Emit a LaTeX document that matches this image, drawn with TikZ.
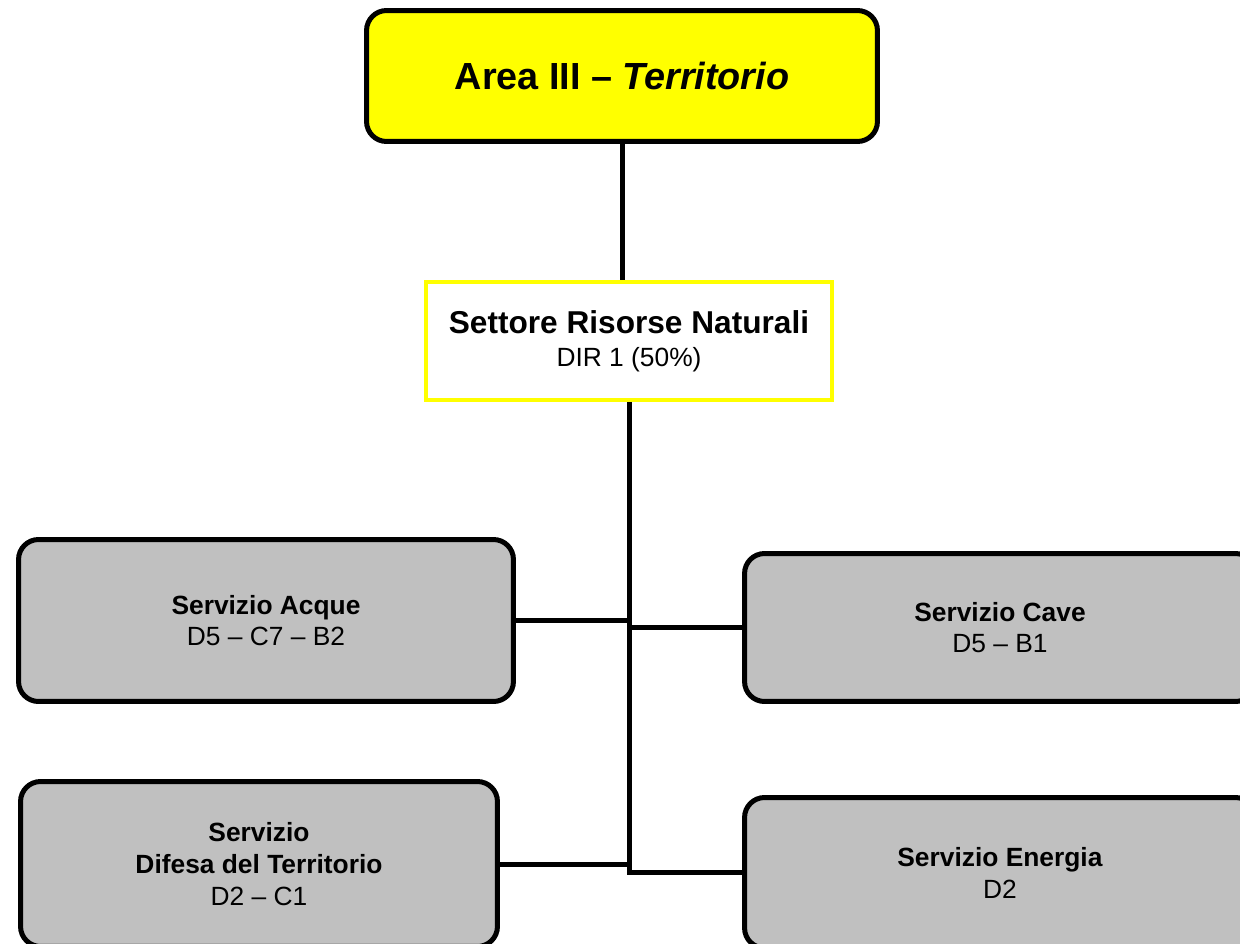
\documentclass[tikz,border=0pt]{standalone}
\usepackage{fontspec}
\setmainfont{Liberation Sans}
\usepackage{tikz}

\definecolor{boxgray}{RGB}{192,192,192}
\definecolor{areayellow}{RGB}{255,255,0}

\tikzset{
    areabox/.style={shape=rectangle,rounded corners=0.4cm,draw=black,line width=0.1cm,fill=areayellow,align=center},
    settbox/.style={shape=rectangle,draw=areayellow,line width=0.08cm,fill=white,align=center,font=\fontsize{15}{19}\selectfont},
    servbox/.style={shape=rectangle,rounded corners=0.4cm,draw=black,line width=0.1cm,fill=boxgray,align=center,font=\fontsize{15}{18}\selectfont},
    conn/.style={draw=black,line width=0.1cm}
}

\begin{document}
\begin{tikzpicture}[x=0.02cm,y=-0.02cm]
    \useasboundingbox (0,0) rectangle (1240,943);
    \clip (0,0) rectangle (1240,943);

    \node[areabox,minimum width=10.22cm,minimum height=2.62cm] (area) at (622,76)
        {\fontsize{21.5}{26}\selectfont\bfseries Area III – \textit{Territorio}};
    \node[settbox,minimum width=8.12cm,minimum height=2.36cm] (sett) at (629,341)
        {{\fontsize{18}{19}\selectfont\bfseries Settore Risorse Naturali}\\DIR 1 (50\%)};

    \node[servbox,minimum width=9.9cm,minimum height=3.24cm] (acque) at (266,620.5)
        {\textbf{Servizio Acque}\\D5 – C7 – B2};
    \node[servbox,minimum width=10.22cm,minimum height=2.96cm] (cave) at (1000,627.5)
        {\textbf{Servizio Cave}\\D5 – B1};
    \node[servbox,minimum width=9.54cm,minimum height=3.3cm] (difesa) at (259,864)
        {\textbf{Servizio}\\\textbf{Difesa del Territorio}\\D2 – C1};
    \node[servbox,minimum width=10.22cm,minimum height=3.01cm] (energia) at (1000,872.75)
        {\textbf{Servizio Energia}\\D2};

    \draw[conn] (area.south) -- (area.south |- sett.north);
    \draw[conn] (sett.south) -- (sett.south |- energia.west) -- (energia.west);
    \draw[conn] (acque.east) -- (acque.east -| sett.south);
    \draw[conn] (cave.west) -- (cave.west -| sett.south);
    \draw[conn] (difesa.east) -- (difesa.east -| sett.south);
\end{tikzpicture}
\end{document}
